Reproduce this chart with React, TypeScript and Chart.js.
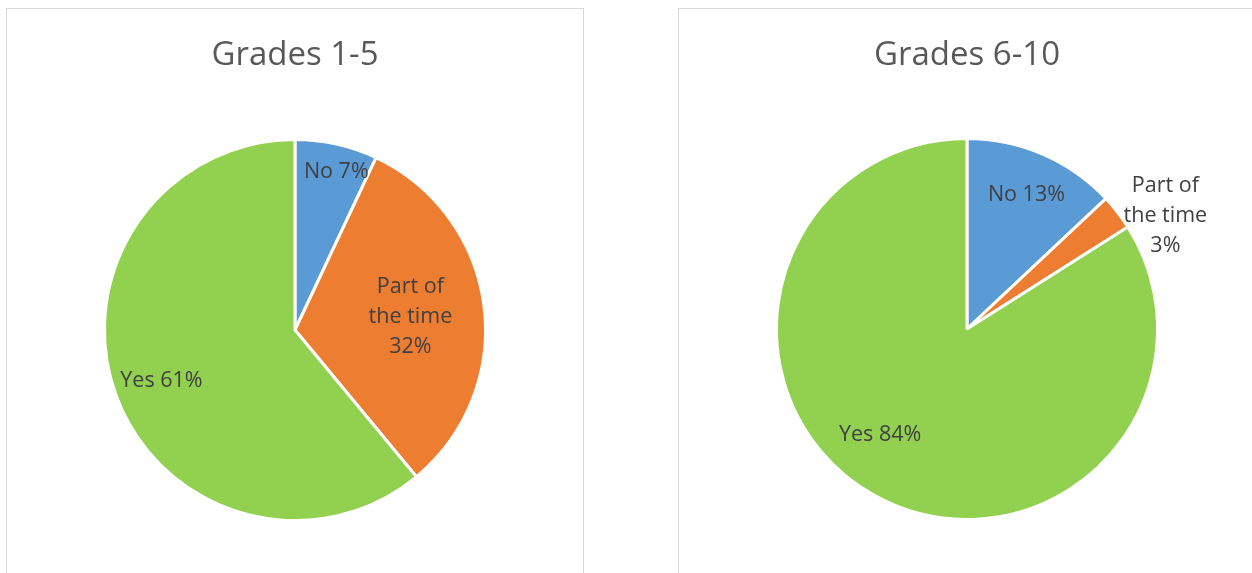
import React, { useEffect, useRef } from "react";
import { Chart, registerables } from "chart.js";
Chart.register(...registerables);

const categories = ["No", "Part of the time", "Yes"];
const titleLeft = "Grades 1-5";
const titleRight = "Grades 6-10";
const valuesLeft = [7, 32, 61];
const valuesRight = [13, 3, 84];
const colors = ["#5B9BD5", "#ED7D31", "#92D050"];

// label placement: [angle offset in degrees from slice middle, radius fraction]
const placeLeft = [[2, 0.86], [0.5, 0.61], [-1, 0.75]];
const placeRight = [[0.5, 0.77], [8, 1.2], [10.5, 0.72]];
const labelLines = (cat: string, v: number, idx: number) => {
  if (idx === 1) return ["Part of", "the time", v + "%"];
  return [cat + " " + v + "%"];
};

const FONT = "'Open Sans', 'DejaVu Sans', sans-serif";

function makePlugin(title: string, place: number[][]) {
  return {
    id: "custom-labels",
    afterDatasetsDraw(chart: any) {
      const ctx = chart.ctx;
      const meta = chart.getDatasetMeta(0);
      const ds = chart.data.datasets[0];
      ctx.save();
      ctx.fillStyle = "#595959";
      ctx.font = `33px ${FONT}`;
      ctx.textAlign = "center";
      ctx.textBaseline = "middle";
      ctx.fillText(title, meta.data[0].x, 47);
      ctx.fillStyle = "#404040";
      ctx.font = `21.5px ${FONT}`;
      meta.data.forEach((arc: any, i: number) => {
        const mid = (arc.startAngle + arc.endAngle) / 2 + (place[i][0] * Math.PI) / 180;
        const r = arc.outerRadius * place[i][1];
        const x = arc.x + Math.cos(mid) * r;
        const y = arc.y + Math.sin(mid) * r;
        const lines = labelLines(chart.data.labels[i], ds.data[i], i);
        const lh = 30;
        lines.forEach((t: string, k: number) => {
          ctx.fillText(t, x, y + (k - (lines.length - 1) / 2) * lh);
        });
      });
      ctx.restore();
    },
  };
}

function PiePanel(props: {
  title: string; values: number[]; place: number[][];
  left: number; width: number; padding: any;
}) {
  const ref = useRef<HTMLCanvasElement>(null);
  useEffect(() => {
    const chart = new Chart(ref.current!, {
      type: "pie",
      data: {
        labels: categories,
        datasets: [{ data: props.values, backgroundColor: colors, borderColor: "#ffffff", borderWidth: 3 }],
      },
      options: {
        animation: false,
        responsive: false,
        layout: { padding: props.padding },
        plugins: { legend: { display: false }, tooltip: { enabled: false }, title: { display: false } },
      },
      plugins: [makePlugin(props.title, props.place)],
    });
    return () => chart.destroy();
  }, []);
  return (
    <div style={{ position: "absolute", left: props.left, top: 8, width: props.width, height: 600,
      border: "1.5px solid #d9d9d9", boxSizing: "border-box", background: "#fff" }}>
      <canvas ref={ref} width={props.width - 3} height={564}
        style={{ position: "absolute", left: 0, top: 0, width: props.width - 3, height: 564 }} />
    </div>
  );
}

export default function App() {
  return (
    <div style={{ position: "absolute", left: 0, top: 0, width: 1252, height: 573, overflow: "hidden", background: "#fff" }}>
      <PiePanel title={titleLeft} values={valuesLeft} place={placeLeft} left={6} width={578}
        padding={{ left: 96, right: 95, top: 129, bottom: 51 }} />
      <PiePanel title={titleRight} values={valuesRight} place={placeRight} left={678} width={600}
        padding={{ left: 96, right: 117, top: 128, bottom: 52 }} />
    </div>
  );
}
